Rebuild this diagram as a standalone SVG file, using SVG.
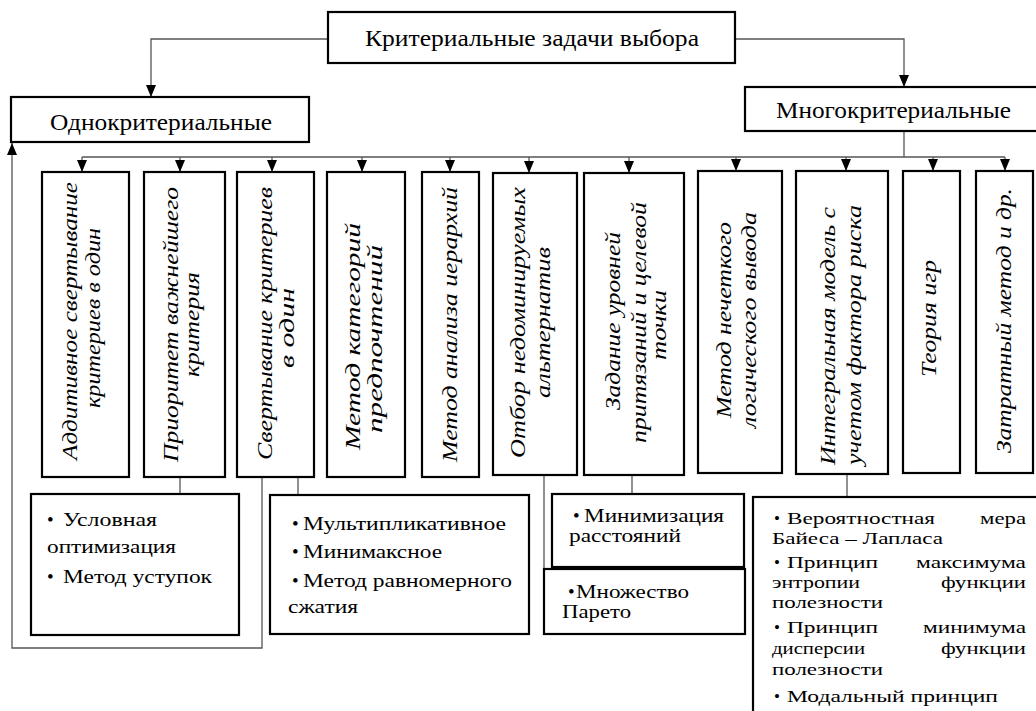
<svg xmlns="http://www.w3.org/2000/svg" width="1036" height="711" viewBox="0 0 1036 711">
<defs>
<marker id="arr" viewBox="0 0 12 10" refX="12" refY="5" markerWidth="12" markerHeight="10" markerUnits="userSpaceOnUse" orient="auto">
<path d="M0,0 L12,5 L0,10 z" fill="#000"/>
</marker>
<style>
.box{fill:#fff;stroke:#000;stroke-width:2.2}
.con{fill:none;stroke:#555;stroke-width:1.3}
text{font-family:"Liberation Serif","Times New Roman",serif;fill:#000}
.h{font-size:24px;text-anchor:middle}
.v{font-size:22px;font-style:italic;text-anchor:middle}
.b{font-size:19px}
.e{font-size:17px}
</style>
</defs>
<rect width="1036" height="711" fill="#fff"/>
<g id="connectors">
<path class="con" d="M328,39 H151 V97" marker-end="url(#arr)"/>
<path class="con" d="M735,39 H904 V87" marker-end="url(#arr)"/>
<path class="con" d="M904,131 V157"/>
<path class="con" d="M82,157 H1005"/>
<path class="con" d="M82,157 V172" marker-end="url(#arr)"/>
<path class="con" d="M180,157 V172" marker-end="url(#arr)"/>
<path class="con" d="M272,157 V172" marker-end="url(#arr)"/>
<path class="con" d="M362,157 V172" marker-end="url(#arr)"/>
<path class="con" d="M450,157 V172" marker-end="url(#arr)"/>
<path class="con" d="M529,157 V173" marker-end="url(#arr)"/>
<path class="con" d="M629,157 V173" marker-end="url(#arr)"/>
<path class="con" d="M736,157 V171" marker-end="url(#arr)"/>
<path class="con" d="M846,157 V171" marker-end="url(#arr)"/>
<path class="con" d="M933,157 V171" marker-end="url(#arr)"/>
<path class="con" d="M1005,157 V171" marker-end="url(#arr)"/>
<path class="con" d="M262,477 V648 H12 V143" marker-end="url(#arr)"/>
<path class="con" d="M73,464 V477"/>
<path class="con" d="M180,477 V494"/>
<path class="con" d="M298,477 V495"/>
<path class="con" d="M544,475 V569"/>
<path class="con" d="M632,475 V494"/>
<path class="con" d="M847,474 V497"/>
</g>
<g id="root">
<rect class="box" x="328" y="12" width="407" height="51"/>
<text class="h" x="532" y="46" textLength="334" lengthAdjust="spacingAndGlyphs">Критериальные задачи выбора</text>
</g>
<g id="single">
<rect class="box" x="11" y="97" width="298" height="45"/>
<text class="h" x="161" y="130" textLength="222" lengthAdjust="spacingAndGlyphs">Однокритериальные</text>
</g>
<g id="multi">
<rect class="box" x="745" y="87" width="300" height="44"/>
<text class="h" x="893.5" y="118" textLength="235" lengthAdjust="spacingAndGlyphs">Многокритериальные</text>
</g>
<g id="m1">
<rect class="box" x="42" y="172" width="87" height="305"/>
<text class="v" transform="translate(77,321) rotate(-90)" textLength="278" lengthAdjust="spacingAndGlyphs">Аддитивное свертывание</text>
<text class="v" transform="translate(100,318) rotate(-90)" textLength="180" lengthAdjust="spacingAndGlyphs">критериев в один</text>
</g>
<g id="m2">
<rect class="box" x="144" y="172" width="81" height="305"/>
<text class="v" transform="translate(178,324.5) rotate(-90)" textLength="275" lengthAdjust="spacingAndGlyphs">Приоритет важнейшего</text>
<text class="v" transform="translate(199,324.5) rotate(-90)" textLength="105" lengthAdjust="spacingAndGlyphs">критерия</text>
</g>
<g id="m3">
<rect class="box" x="237" y="172" width="77" height="305"/>
<text class="v" transform="translate(272,323.5) rotate(-90)" textLength="273" lengthAdjust="spacingAndGlyphs">Свертывание критериев</text>
<text class="v" transform="translate(294,328) rotate(-90)" textLength="80" lengthAdjust="spacingAndGlyphs">в один</text>
</g>
<g id="m4">
<rect class="box" x="327" y="172" width="78" height="305"/>
<text class="v" transform="translate(360,336.5) rotate(-90)" textLength="227" lengthAdjust="spacingAndGlyphs">Метод категорий</text>
<text class="v" transform="translate(382,339) rotate(-90)" textLength="188" lengthAdjust="spacingAndGlyphs">предпочтений</text>
</g>
<g id="m5">
<rect class="box" x="422" y="172" width="57" height="305"/>
<text class="v" transform="translate(457,324.5) rotate(-90)" textLength="275" lengthAdjust="spacingAndGlyphs">Метод анализа иерархий</text>
</g>
<g id="m6">
<rect class="box" x="493" y="173" width="84" height="302"/>
<text class="v" transform="translate(525,322.5) rotate(-90)" textLength="271" lengthAdjust="spacingAndGlyphs">Отбор недоминируемых</text>
<text class="v" transform="translate(550,322.5) rotate(-90)" textLength="151" lengthAdjust="spacingAndGlyphs">альтернатив</text>
</g>
<g id="m7">
<rect class="box" x="584" y="173" width="100" height="302"/>
<text class="v" transform="translate(620,321) rotate(-90)" textLength="178" lengthAdjust="spacingAndGlyphs">Задание уровней</text>
<text class="v" transform="translate(646,322.5) rotate(-90)" textLength="241" lengthAdjust="spacingAndGlyphs">притязаний и целевой</text>
<text class="v" transform="translate(666,325) rotate(-90)" textLength="70" lengthAdjust="spacingAndGlyphs">точки</text>
</g>
<g id="m8">
<rect class="box" x="698" y="171" width="84" height="302"/>
<text class="v" transform="translate(731,320) rotate(-90)" textLength="196" lengthAdjust="spacingAndGlyphs">Метод нечеткого</text>
<text class="v" transform="translate(756,320) rotate(-90)" textLength="216" lengthAdjust="spacingAndGlyphs">логического вывода</text>
</g>
<g id="m9">
<rect class="box" x="796" y="171" width="92" height="303"/>
<text class="v" transform="translate(835,336) rotate(-90)" textLength="258" lengthAdjust="spacingAndGlyphs">Интегральная модель с</text>
<text class="v" transform="translate(861,335) rotate(-90)" textLength="260" lengthAdjust="spacingAndGlyphs">учетом фактора риска</text>
</g>
<g id="m10">
<rect class="box" x="903" y="171" width="57" height="302"/>
<text class="v" transform="translate(936,318.5) rotate(-90)" textLength="117" lengthAdjust="spacingAndGlyphs">Теория игр</text>
</g>
<g id="m11">
<rect class="box" x="976" y="171" width="57" height="302"/>
<text class="v" transform="translate(1011,320.5) rotate(-90)" textLength="265" lengthAdjust="spacingAndGlyphs">Затратный метод и др.</text>
</g>
<g id="s1">
<rect class="box" x="31" y="494" width="208" height="141"/>
<text class="b" x="47" y="526">•</text>
<text class="b" x="63" y="526" textLength="94" lengthAdjust="spacingAndGlyphs">Условная</text>
<text class="b" x="47" y="553" textLength="129" lengthAdjust="spacingAndGlyphs">оптимизация</text>
<text class="b" x="47" y="583">•</text>
<text class="b" x="63" y="583" textLength="149" lengthAdjust="spacingAndGlyphs">Метод уступок</text>
</g>
<g id="s2">
<rect class="box" x="270" y="495" width="259" height="139"/>
<text class="b" x="292" y="530">•</text>
<text class="b" x="303" y="530" textLength="203" lengthAdjust="spacingAndGlyphs">Мультипликативное</text>
<text class="b" x="292" y="558">•</text>
<text class="b" x="303" y="558" textLength="139" lengthAdjust="spacingAndGlyphs">Минимаксное</text>
<text class="b" x="292" y="587">•</text>
<text class="b" x="303" y="587" textLength="209" lengthAdjust="spacingAndGlyphs">Метод равномерного</text>
<text class="b" x="288" y="613" textLength="70" lengthAdjust="spacingAndGlyphs">сжатия</text>
</g>
<g id="s3">
<rect class="box" x="552" y="494" width="192" height="73"/>
<text class="b" x="573" y="522">•</text>
<text class="b" x="584" y="522" textLength="140" lengthAdjust="spacingAndGlyphs">Минимизация</text>
<text class="b" x="569" y="542" textLength="112" lengthAdjust="spacingAndGlyphs">расстояний</text>
</g>
<g id="s4">
<rect class="box" x="544" y="569" width="201" height="65"/>
<text class="b" x="568" y="598">•</text>
<text class="b" x="576" y="598" textLength="113" lengthAdjust="spacingAndGlyphs">Множество</text>
<text class="b" x="562" y="618" textLength="69" lengthAdjust="spacingAndGlyphs">Парето</text>
</g>
<g id="s5">
<rect class="box" x="753" y="497" width="300" height="240"/>
<text class="e" x="774" y="524">•</text>
<text class="e" x="787" y="524" textLength="148" lengthAdjust="spacingAndGlyphs">Вероятностная</text>
<text class="e" x="980" y="524" textLength="46" lengthAdjust="spacingAndGlyphs">мера</text>
<text class="e" x="772" y="544" textLength="171" lengthAdjust="spacingAndGlyphs">Байеса – Лапласа</text>
<text class="e" x="774" y="568">•</text>
<text class="e" x="787" y="568" textLength="91" lengthAdjust="spacingAndGlyphs">Принцип</text>
<text class="e" x="916" y="568" textLength="110" lengthAdjust="spacingAndGlyphs">максимума</text>
<text class="e" x="772" y="588" textLength="88" lengthAdjust="spacingAndGlyphs">энтропии</text>
<text class="e" x="941" y="588" textLength="85" lengthAdjust="spacingAndGlyphs">функции</text>
<text class="e" x="772" y="608" textLength="111" lengthAdjust="spacingAndGlyphs">полезности</text>
<text class="e" x="774" y="633">•</text>
<text class="e" x="787" y="633" textLength="91" lengthAdjust="spacingAndGlyphs">Принцип</text>
<text class="e" x="923" y="633" textLength="103" lengthAdjust="spacingAndGlyphs">минимума</text>
<text class="e" x="772" y="654" textLength="93" lengthAdjust="spacingAndGlyphs">дисперсии</text>
<text class="e" x="941" y="654" textLength="85" lengthAdjust="spacingAndGlyphs">функции</text>
<text class="e" x="772" y="675" textLength="111" lengthAdjust="spacingAndGlyphs">полезности</text>
<text class="e" x="774" y="702">•</text>
<text class="e" x="787" y="702" textLength="211" lengthAdjust="spacingAndGlyphs">Модальный принцип</text>
</g>
</svg>
